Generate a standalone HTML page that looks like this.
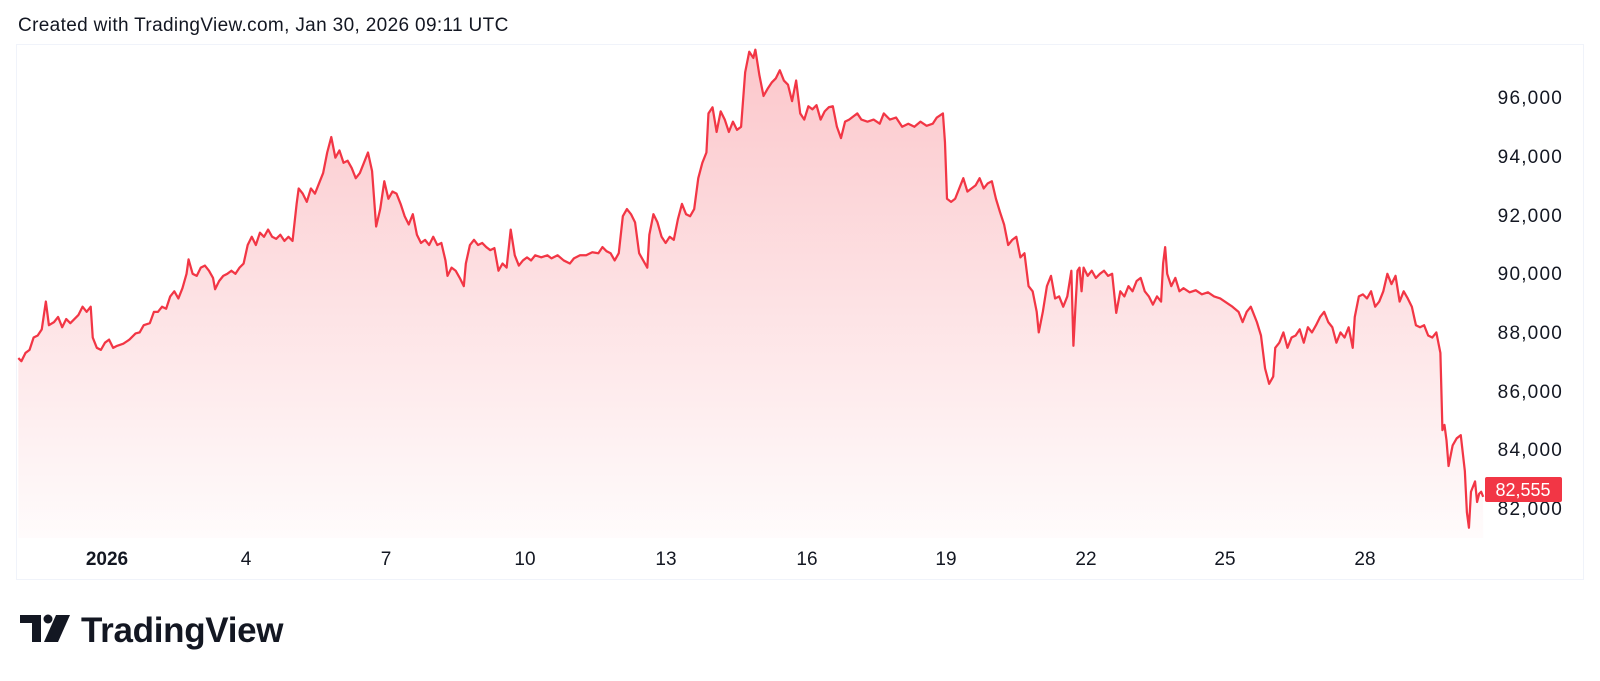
<!DOCTYPE html>
<html><head><meta charset="utf-8"><style>
html,body{margin:0;padding:0;background:#fff;}
svg{display:block;font-family:"Liberation Sans",sans-serif;}
</style></head><body>
<svg width="1600" height="681" viewBox="0 0 1600 681">
<defs>
<linearGradient id="g" gradientUnits="userSpaceOnUse" x1="0" y1="50" x2="0" y2="540">
<stop offset="0" stop-color="#F23645" stop-opacity="0.28"/>
<stop offset="1" stop-color="#F23645" stop-opacity="0.01"/>
</linearGradient>
</defs>
<text x="18" y="31" font-size="19" fill="#131722" letter-spacing="0.35">Created with TradingView.com, Jan 30, 2026 09:11 UTC</text>
<rect x="16.5" y="44.5" width="1567" height="535" fill="none" stroke="#F0F3FA" stroke-width="1"/>
<g transform="translate(1,-1.7) scale(1.0194,1.028)">
<path fill="url(#g)" d="M17,525 L17,350 L20,353 L24,345 L28,342 L32,330 L36,328 L40,322 L44,295 L47,318 L52,315 L56,310 L60,320 L64,312 L68,316 L72,312 L76,308 L80,300 L84,305 L88,300 L90,330 L94,340 L98,342 L102,335 L106,332 L110,340 L114,338 L120,336 L126,332 L132,326 L136,325 L140,318 L146,316 L150,305 L154,305 L158,300 L162,302 L166,290 L170,285 L174,292 L178,282 L182,268 L184,254 L188,268 L192,270 L196,262 L200,260 L204,265 L208,272 L210,283 L214,275 L218,270 L222,268 L226,265 L230,268 L234,262 L238,258 L242,240 L246,232 L250,240 L254,228 L258,232 L262,225 L266,232 L270,234 L274,230 L278,236 L282,232 L286,236 L290,200 L292,185 L296,190 L300,198 L304,185 L308,190 L312,180 L316,170 L320,150 L324,135 L328,155 L332,148 L336,160 L340,158 L344,165 L348,175 L352,170 L356,160 L360,150 L364,168 L368,222 L372,205 L376,178 L380,195 L384,188 L388,190 L392,200 L396,212 L400,220 L404,210 L408,230 L412,238 L416,235 L420,240 L424,232 L428,240 L432,238 L436,255 L438,270 L442,262 L446,265 L450,272 L454,280 L456,258 L460,240 L464,235 L468,240 L472,238 L476,242 L480,245 L484,243 L488,265 L492,258 L496,262 L500,225 L504,250 L508,260 L512,255 L516,252 L520,255 L524,250 L530,252 L536,250 L540,253 L546,250 L552,255 L558,258 L562,253 L568,250 L574,250 L580,247 L586,248 L590,242 L594,246 L598,248 L602,255 L606,248 L610,212 L614,205 L618,210 L622,218 L626,248 L630,255 L634,262 L636,230 L640,210 L644,218 L648,232 L652,238 L656,232 L660,235 L664,215 L668,200 L672,210 L676,212 L680,205 L684,175 L688,160 L692,150 L694,112 L698,106 L702,130 L706,110 L710,118 L714,130 L718,120 L722,128 L726,125 L730,72 L734,52 L738,58 L740,50 L744,75 L748,95 L752,88 L756,82 L760,78 L764,70 L768,80 L772,84 L776,100 L780,80 L784,112 L788,118 L792,105 L796,108 L800,104 L804,118 L808,110 L812,106 L816,105 L820,125 L824,136 L828,120 L832,118 L836,115 L840,112 L844,118 L850,120 L856,118 L862,122 L866,112 L872,118 L878,116 L884,125 L890,122 L896,125 L902,120 L908,124 L914,122 L918,116 L924,112 L926,140 L928,195 L932,198 L936,195 L940,185 L944,175 L948,188 L952,185 L956,182 L960,175 L964,185 L968,180 L972,178 L976,195 L980,208 L984,220 L988,240 L992,235 L996,232 L1000,252 L1004,248 L1008,280 L1012,285 L1016,305 L1018,325 L1022,305 L1026,280 L1030,270 L1034,292 L1038,290 L1042,300 L1046,290 L1050,265 L1052,338 L1054,300 L1056,265 L1058,262 L1060,285 L1062,262 L1066,270 L1070,265 L1074,272 L1078,268 L1082,265 L1086,270 L1090,268 L1094,306 L1098,285 L1102,290 L1106,280 L1110,285 L1114,275 L1118,272 L1122,285 L1126,290 L1130,298 L1134,290 L1138,295 L1140,258 L1142,242 L1144,268 L1148,280 L1152,272 L1156,285 L1160,282 L1166,286 L1172,284 L1178,288 L1184,286 L1190,290 L1196,292 L1202,296 L1208,300 L1214,305 L1218,315 L1222,305 L1226,300 L1228,305 L1232,315 L1236,328 L1240,360 L1244,375 L1248,368 L1250,340 L1254,335 L1258,325 L1262,340 L1266,330 L1270,328 L1274,322 L1278,335 L1282,320 L1286,325 L1290,318 L1294,310 L1298,305 L1302,315 L1306,320 L1310,335 L1314,325 L1318,330 L1322,320 L1326,340 L1328,310 L1332,290 L1336,288 L1340,292 L1344,285 L1348,300 L1352,295 L1356,285 L1360,268 L1364,278 L1368,270 L1372,295 L1376,285 L1380,292 L1384,300 L1388,318 L1392,320 L1396,318 L1400,328 L1404,330 L1408,325 L1412,345 L1414,420 L1416,415 L1418,430 L1420,455 L1424,435 L1428,428 L1432,425 L1436,460 L1438,500 L1440,515 L1442,480 L1446,470 L1448,490 L1450,482 L1452,480 L1454,485 L1454,525 Z"/>
<path fill="none" stroke="#F23645" stroke-width="2.2" stroke-linejoin="round" d="M17,350 L20,353 L24,345 L28,342 L32,330 L36,328 L40,322 L44,295 L47,318 L52,315 L56,310 L60,320 L64,312 L68,316 L72,312 L76,308 L80,300 L84,305 L88,300 L90,330 L94,340 L98,342 L102,335 L106,332 L110,340 L114,338 L120,336 L126,332 L132,326 L136,325 L140,318 L146,316 L150,305 L154,305 L158,300 L162,302 L166,290 L170,285 L174,292 L178,282 L182,268 L184,254 L188,268 L192,270 L196,262 L200,260 L204,265 L208,272 L210,283 L214,275 L218,270 L222,268 L226,265 L230,268 L234,262 L238,258 L242,240 L246,232 L250,240 L254,228 L258,232 L262,225 L266,232 L270,234 L274,230 L278,236 L282,232 L286,236 L290,200 L292,185 L296,190 L300,198 L304,185 L308,190 L312,180 L316,170 L320,150 L324,135 L328,155 L332,148 L336,160 L340,158 L344,165 L348,175 L352,170 L356,160 L360,150 L364,168 L368,222 L372,205 L376,178 L380,195 L384,188 L388,190 L392,200 L396,212 L400,220 L404,210 L408,230 L412,238 L416,235 L420,240 L424,232 L428,240 L432,238 L436,255 L438,270 L442,262 L446,265 L450,272 L454,280 L456,258 L460,240 L464,235 L468,240 L472,238 L476,242 L480,245 L484,243 L488,265 L492,258 L496,262 L500,225 L504,250 L508,260 L512,255 L516,252 L520,255 L524,250 L530,252 L536,250 L540,253 L546,250 L552,255 L558,258 L562,253 L568,250 L574,250 L580,247 L586,248 L590,242 L594,246 L598,248 L602,255 L606,248 L610,212 L614,205 L618,210 L622,218 L626,248 L630,255 L634,262 L636,230 L640,210 L644,218 L648,232 L652,238 L656,232 L660,235 L664,215 L668,200 L672,210 L676,212 L680,205 L684,175 L688,160 L692,150 L694,112 L698,106 L702,130 L706,110 L710,118 L714,130 L718,120 L722,128 L726,125 L730,72 L734,52 L738,58 L740,50 L744,75 L748,95 L752,88 L756,82 L760,78 L764,70 L768,80 L772,84 L776,100 L780,80 L784,112 L788,118 L792,105 L796,108 L800,104 L804,118 L808,110 L812,106 L816,105 L820,125 L824,136 L828,120 L832,118 L836,115 L840,112 L844,118 L850,120 L856,118 L862,122 L866,112 L872,118 L878,116 L884,125 L890,122 L896,125 L902,120 L908,124 L914,122 L918,116 L924,112 L926,140 L928,195 L932,198 L936,195 L940,185 L944,175 L948,188 L952,185 L956,182 L960,175 L964,185 L968,180 L972,178 L976,195 L980,208 L984,220 L988,240 L992,235 L996,232 L1000,252 L1004,248 L1008,280 L1012,285 L1016,305 L1018,325 L1022,305 L1026,280 L1030,270 L1034,292 L1038,290 L1042,300 L1046,290 L1050,265 L1052,338 L1054,300 L1056,265 L1058,262 L1060,285 L1062,262 L1066,270 L1070,265 L1074,272 L1078,268 L1082,265 L1086,270 L1090,268 L1094,306 L1098,285 L1102,290 L1106,280 L1110,285 L1114,275 L1118,272 L1122,285 L1126,290 L1130,298 L1134,290 L1138,295 L1140,258 L1142,242 L1144,268 L1148,280 L1152,272 L1156,285 L1160,282 L1166,286 L1172,284 L1178,288 L1184,286 L1190,290 L1196,292 L1202,296 L1208,300 L1214,305 L1218,315 L1222,305 L1226,300 L1228,305 L1232,315 L1236,328 L1240,360 L1244,375 L1248,368 L1250,340 L1254,335 L1258,325 L1262,340 L1266,330 L1270,328 L1274,322 L1278,335 L1282,320 L1286,325 L1290,318 L1294,310 L1298,305 L1302,315 L1306,320 L1310,335 L1314,325 L1318,330 L1322,320 L1326,340 L1328,310 L1332,290 L1336,288 L1340,292 L1344,285 L1348,300 L1352,295 L1356,285 L1360,268 L1364,278 L1368,270 L1372,295 L1376,285 L1380,292 L1384,300 L1388,318 L1392,320 L1396,318 L1400,328 L1404,330 L1408,325 L1412,345 L1414,420 L1416,415 L1418,430 L1420,455 L1424,435 L1428,428 L1432,425 L1436,460 L1438,500 L1440,515 L1442,480 L1446,470 L1448,490 L1450,482 L1452,480 L1454,485"/>
</g>
<g font-size="19" fill="#131722" text-anchor="end" letter-spacing="1.2">
<text x="1563" y="104">96,000</text>
<text x="1563" y="163">94,000</text>
<text x="1563" y="222">92,000</text>
<text x="1563" y="280">90,000</text>
<text x="1563" y="339">88,000</text>
<text x="1563" y="398">86,000</text>
<text x="1563" y="456">84,000</text>
<text x="1563" y="515">82,000</text>
</g>
<rect x="1485" y="477" width="77" height="25" rx="2" fill="#F23645"/>
<text x="1523" y="496" font-size="18" fill="#fff" text-anchor="middle">82,555</text>
<g font-size="19" fill="#131722" text-anchor="middle">
<text x="107" y="565" font-weight="bold">2026</text>
<text x="246" y="565">4</text>
<text x="386" y="565">7</text>
<text x="525" y="565">10</text>
<text x="666" y="565">13</text>
<text x="807" y="565">16</text>
<text x="946" y="565">19</text>
<text x="1086" y="565">22</text>
<text x="1225" y="565">25</text>
<text x="1365" y="565">28</text>
</g>
<g fill="#131722">
<path d="M20,615 H41 V642 H32 V623 H20 Z"/>
<circle cx="48" cy="619" r="4.5"/>
<path d="M56,615 H70 L58,642 H44 Z"/>
</g>
<text x="81" y="642" font-size="35" font-weight="bold" fill="#131722" letter-spacing="-0.3">TradingView</text>
</svg>
</body></html>
